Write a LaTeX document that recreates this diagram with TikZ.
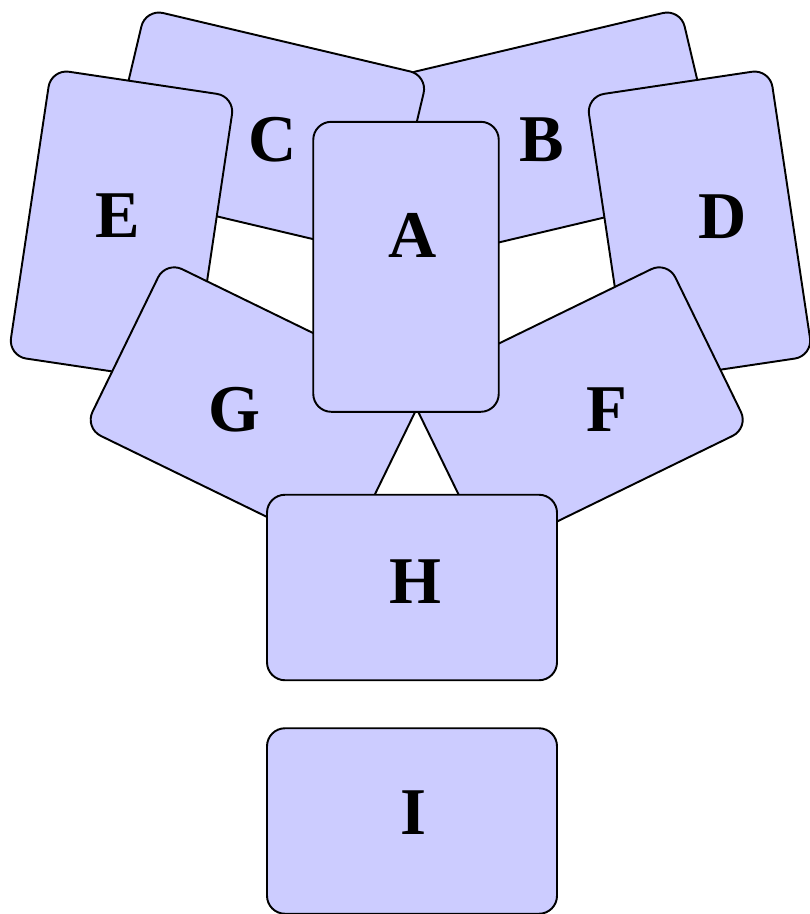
\documentclass[tikz,border=0pt]{standalone}
\usepackage{fontspec}
\setmainfont{Liberation Serif}
\definecolor{cardfill}{RGB}{204,204,255}

\begin{document}
\begin{tikzpicture}[
        card/.style={draw, fill=cardfill, line width=1.1pt, rounded corners=0.36cm,
            minimum width=3.71cm, minimum height=5.8cm, inner sep=0pt},
        widecard/.style={card, minimum width=5.8cm, minimum height=3.71cm},
        letter/.style={font=\bfseries\fontsize{38}{38}\selectfont, inner sep=0pt}
    ]
    \useasboundingbox (0,0) rectangle (16.18,-18.28);

    \node[widecard, rotate=13.3] (B) at (11.214,-2.65) {};
    \node[letter] (labB) at (10.844,-2.794) {B};
    \node[widecard, rotate=-13.3] (C) at (5.306,-2.65) {};
    \node[letter] (labC) at (5.454,-2.8) {C};

    \node[card, rotate=-8.5] (E) at (2.43,-4.524) {};
    \node[letter] (labE) at (2.35,-4.32) {E};
    \node[card, rotate=8.5] (D) at (13.99,-4.524) {};
    \node[letter] (labD) at (14.46,-4.33) {D};

    \node[widecard, rotate=-26] (G) at (5.112,-8.164) {};
    \node[letter] (labG) at (4.68,-8.19) {G};
    \node[widecard, rotate=26] (F) at (11.556,-8.164) {};
    \node[letter] (labF) at (12.134,-8.194) {F};

    \node[card] (A) at (8.12,-5.336) {};
    \node[letter] (labA) at (8.25,-4.716) {A};

    \node[widecard] (H) at (8.24,-11.75) {};
    \node[letter] (labH) at (8.31,-11.64) {H};
    \node[widecard] (I) at (8.24,-16.42) {};
    \node[letter] (labI) at (8.26,-16.256) {I};
\end{tikzpicture}
\end{document}
